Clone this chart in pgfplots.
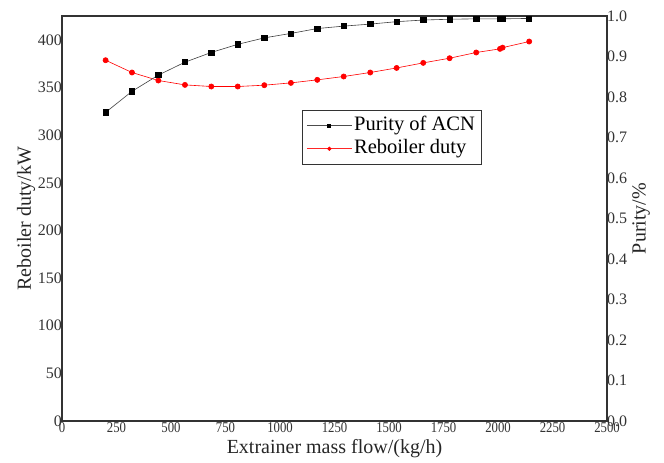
\documentclass[border=0pt]{standalone}
\usepackage{fontspec}
\setmainfont{Liberation Serif}
\newfontfamily\xtickfont{Liberation Serif}[FakeStretch=0.85]
\usepackage{pgfplots}
\pgfplotsset{compat=1.18}
\pgfplotstableread{
x y
200 378.6
321 365.7
442 357.3
564 352.7
685 351.0
806 351.0
928 352.4
1050 354.8
1171 358.0
1292 361.5
1414 365.7
1535 370.5
1657 375.8
1778 380.7
1900 386.7
2009 390.5
2021 391.8
2143 398.2
}\duty
\pgfplotstableread{
x y
200 0.762
321 0.814
442 0.854
564 0.886
685 0.910
806 0.930
928 0.946
1050 0.957
1171 0.969
1292 0.975
1414 0.980
1535 0.986
1657 0.990
1778 0.992
1900 0.993
2009 0.993
2021 0.993
2143 0.994
}\purity
\begin{document}
\begin{tikzpicture}
\pgfplotsset{
  every axis/.append style={
    scale only axis, width=545pt, height=405pt,
    xmin=0, xmax=2500,
    major tick length=0pt,
    tick label style={font=\fontsize{16}{16}\selectfont, text=black!80, inner sep=0pt},
    label style={font=\fontsize{20}{20}\selectfont, text=black!85},
    /pgf/number format/assume math mode=true,
    /pgf/number format/1000 sep={},
    axis line style={line width=1.3pt, black!80},
  }
}
\begin{axis}[
  ymin=0, ymax=425,
  xtick={0,250,...,2500}, ytick={0,50,...,400},
  xtick pos=bottom, ytick pos=left,
  xlabel={Extrainer mass flow/(kg/h)},
  ylabel={Reboiler duty/kW},
  xlabel style={at={(axis description cs:0.5,-0.0642)}, anchor=center, yshift=-2pt},
  ylabel style={at={(axis description cs:-0.0697,0.5)}, anchor=center, yshift=-2pt},
  xticklabel style={font=\xtickfont\fontsize{15}{15}\selectfont, anchor=north, yshift=-1.5pt},
  yticklabel style={anchor=east},
]
\addplot[red, line width=0.6pt, mark=*, mark size=2.6pt, mark options={fill=red, draw=red}] table {\duty};
\coordinate (A) at (rel axis cs:0,0);
\coordinate (B) at (rel axis cs:1,1);
\end{axis}
\begin{axis}[
  ymin=0, ymax=1,
  axis x line=none,
  axis y line*=right,
  ytick={0,0.1,...,1.0},
  yticklabel style={/pgf/number format/fixed, /pgf/number format/fixed zerofill, /pgf/number format/precision=1, anchor=west},
  ylabel={Purity/\%},
  ylabel style={at={(axis description cs:1.0624,0.5)}, anchor=center},
  legend style={at={(0.4404,0.768)}, anchor=north west, draw=black!80, line width=0.6pt,
    font=\fontsize{20.5}{21}\selectfont, cells={anchor=west}, inner sep=4pt,
    nodes={inner sep=2pt, text height=14pt, text depth=5pt}},
  legend cell align=left,
  legend image code/.code={\draw[mark repeat=2,mark phase=2] plot coordinates {(2pt,0pt)(24.5pt,0pt)(47pt,0pt)};},
]
\addplot[black!75, line width=0.6pt, mark=square*, mark size=2.6pt, mark options={fill=black, draw=black}, forget plot] table {\purity};
\addlegendimage{black!70, line width=0.9pt, mark=square*, mark size=1.5pt, mark options={fill=black, draw=black}}
\addlegendentry{Purity of ACN}
\addlegendimage{red!85, line width=0.9pt, mark=*, mark size=1.6pt, mark options={fill=red, draw=red}}
\addlegendentry{Reboiler duty}
\end{axis}
\pgfresetboundingbox
\path[use as bounding box] ([shift={(-62pt,-42pt)}]A) rectangle ([shift={(57pt,16pt)}]B);
\end{tikzpicture}
\end{document}
